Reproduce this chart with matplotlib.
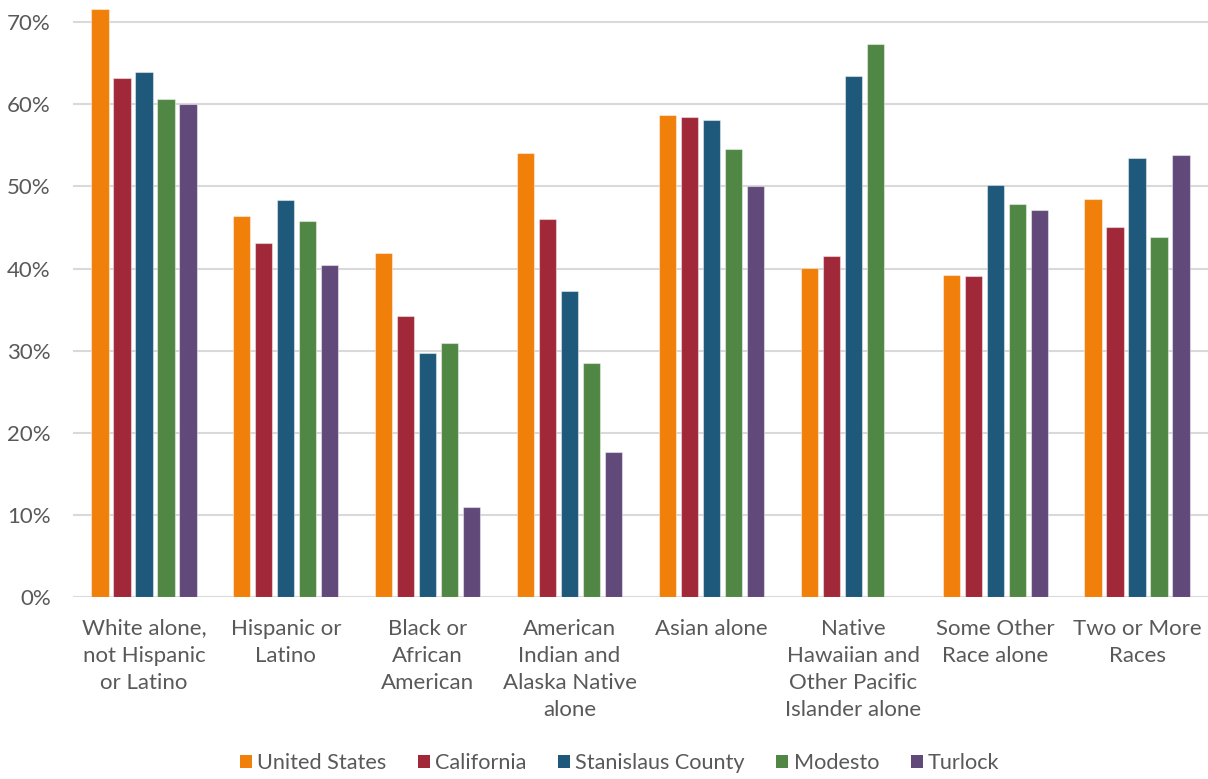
import numpy as np
import matplotlib
matplotlib.use("Agg")
import matplotlib.pyplot as plt
from matplotlib.patches import Patch

categories = [
    "White alone,\nnot Hispanic\nor Latino",
    "Hispanic or\nLatino",
    "Black or\nAfrican\nAmerican",
    "American\nIndian and\nAlaska Native\nalone",
    "Asian alone",
    "Native\nHawaiian and\nOther Pacific\nIslander alone",
    "Some Other\nRace alone",
    "Two or More\nRaces",
]

series_names = ["United States", "California", "Stanislaus County", "Modesto", "Turlock"]

united_states = [71.6, 46.4, 41.9, 54.1, 58.7, 40.1, 39.2, 48.5]
california = [63.2, 43.1, 34.2, 46.0, 58.4, 41.5, 39.1, 45.0]
stanislaus = [63.9, 48.4, 29.7, 37.3, 58.1, 63.4, 50.2, 53.4]
modesto = [60.7, 45.8, 30.9, 28.5, 54.6, 67.3, 47.8, 43.9]
turlock = [60.0, 40.4, 10.9, 17.7, 50.1, np.nan, 47.1, 53.8]

series_values = [united_states, california, stanislaus, modesto, turlock]
colors = ["#F0800A", "#A12838", "#1E587A", "#508744", "#61497A"]

yticks = [0, 10, 20, 30, 40, 50, 60, 70]
ytick_labels = [f"{t}%" for t in yticks]

plt.rcParams["font.family"] = ["Lato", "DejaVu Sans"]
text_color = "#595959"

fig = plt.figure(figsize=(12.08, 7.79), dpi=100)
ax = fig.add_axes([73 / 1208, (779 - 597) / 779, 1 - 73 / 1208, 597 / 779])

x = np.arange(len(categories))
step = 0.155
width = 0.122
for i, (name, vals, col) in enumerate(zip(series_names, series_values, colors)):
    offs = (i - 2) * step
    ax.bar(x + offs, vals, width=width, color=col, label=name,
           edgecolor=(1, 1, 1, 0.45), linewidth=0.8, zorder=3)

ax.set_xlim(-0.5, len(categories) - 0.5)
ax.set_ylim(0, 72.7)
ax.set_yticks(yticks)
ax.set_yticklabels(ytick_labels)
ax.yaxis.grid(True, color="#D9D9D9", linewidth=1.5, zorder=0)
ax.set_axisbelow(True)
for s in ax.spines.values():
    s.set_visible(False)
ax.tick_params(axis="both", length=0, labelsize=16, colors=text_color)
ax.tick_params(axis="y", pad=16)
ax.tick_params(axis="x", pad=15.5)
ax.set_xticks(x)
ax.set_xticklabels(categories, linespacing=1.45, va="top")

handles = [Patch(facecolor=c, edgecolor="none") for c in colors]
fig.legend(handles, series_names, loc="center", bbox_to_anchor=(0.513, 1 - 763 / 779),
           ncol=5, frameon=False, fontsize=15.6, handlelength=0.55, handleheight=0.55,
           handletextpad=0.25, columnspacing=1.45, labelcolor=text_color)

fig.savefig("out.png", dpi=100)
